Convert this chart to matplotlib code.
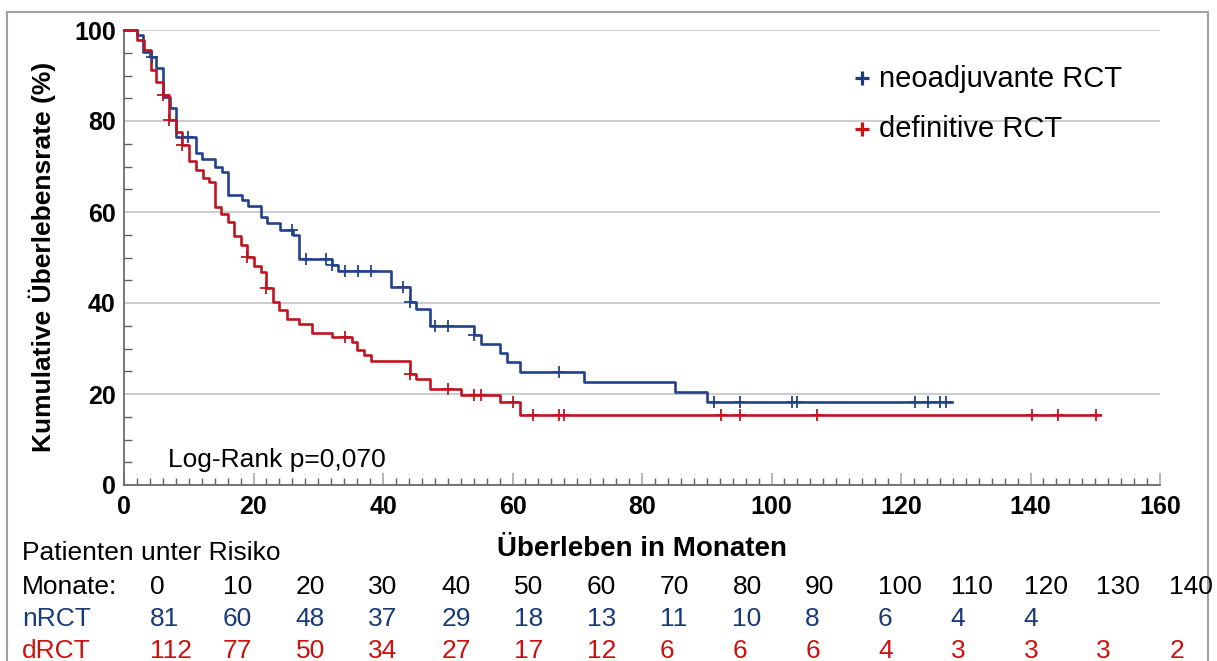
import numpy as np
import matplotlib.pyplot as plt
from matplotlib.patches import Rectangle
from matplotlib.ticker import MultipleLocator

plt.rcParams['font.family'] = ['Liberation Sans', 'DejaVu Sans']

# Kaplan-Meier steps (months, survival %)
nrct_t = [0, 2.0, 3.0, 4.0, 5.0, 6.1, 7.1, 8.0, 11.1, 12.0, 14.1, 15.1, 16.1, 18.2, 19.2,
          21.1, 22.1, 24.1, 26.1, 27.1, 32.1, 33.0, 41.2, 44.1, 45.1, 47.2, 54.1, 55.1,
          58.1, 59.1, 61.1, 71.0, 85.1, 90.1]
nrct_s = [100, 98.8, 95.2, 94.1, 91.6, 85.3, 82.8, 76.5, 72.9, 71.6, 70.0, 68.9, 63.7, 62.6, 61.3,
          58.8, 57.5, 56.0, 54.9, 49.6, 48.4, 47.0, 43.6, 40.3, 38.7, 35.0, 33.0, 31.0,
          29.0, 27.0, 24.9, 22.6, 20.4, 18.2]
nrct_end = 127.8
nrct_cens = [4.3, 9.9, 26.0, 28.1, 31.2, 32.1, 34.1, 36.2, 38.1, 43.1, 44.1, 48.0, 50.1, 54.1,
             67.2, 91.1, 95.1, 103.1, 104.0, 122.2, 124.1, 126.1, 127.0]

drct_t = [0, 2.0, 3.1, 4.1, 5.0, 6.0, 7.0, 8.0, 9.0, 10.1, 11.1, 12.2, 13.2, 14.0, 15.0, 16.0,
          17.0, 18.0, 19.0, 20.0, 21.1, 22.0, 23.0, 24.0, 25.1, 27.0, 29.0, 32.1, 35.2, 36.0,
          37.1, 38.1, 44.1, 45.1, 47.2, 52.0, 58.1, 61.1]
drct_s = [100, 97.8, 95.6, 91.2, 88.6, 85.7, 80.2, 77.6, 74.7, 71.1, 69.2, 67.4, 66.7, 61.2, 59.5, 57.8,
          54.7, 52.7, 50.2, 48.1, 46.9, 43.2, 40.3, 38.5, 36.4, 35.4, 33.5, 32.6, 31.5, 29.7,
          28.6, 27.3, 24.4, 23.3, 21.0, 19.8, 18.3, 15.3]
drct_end = 150.7
drct_cens = [6.0, 7.0, 9.0, 19.0, 22.0, 34.1, 44.1, 50.1, 54.1, 55.1, 60.1, 63.1, 67.2, 68.0,
             92.2, 95.1, 107.1, 140.2, 144.2, 150.1]

# patients at risk
risk_months = [0, 10, 20, 30, 40, 50, 60, 70, 80, 90, 100, 110, 120, 130, 140]
nrct_risk = [81, 60, 48, 37, 29, 18, 13, 11, 10, 8, 6, 4, 4]
drct_risk = [112, 77, 50, 34, 27, 17, 12, 6, 6, 6, 4, 3, 3, 3, 2]

blue = '#22428e'
red = '#c01420'
blue_txt = '#1b3a78'
red_txt = '#cc1111'


def surv_at(ts, ss, c):
    idx = np.searchsorted(ts, c, side='right') - 1
    return np.asarray(ss)[idx]


W, H = 1217, 661
fig = plt.figure(figsize=(W / 100, H / 100), dpi=100)
ax = fig.add_axes([124 / W, 1 - 485 / H, (1160 - 124) / W, (485 - 30) / H])

for ts, ss, end, cens, col in [(nrct_t, nrct_s, nrct_end, nrct_cens, blue),
                               (drct_t, drct_s, drct_end, drct_cens, red)]:
    ax.step(ts + [end], ss + [ss[-1]], where='post', color=col, lw=1.9, clip_on=False, zorder=3)
    ax.plot(cens, surv_at(ts, ss, cens), ls='none', marker='+', ms=9, mew=1.3,
            color=col, clip_on=False, zorder=4)

ax.set_xlim(0, 160)
ax.set_ylim(0, 100)
ax.xaxis.set_major_locator(MultipleLocator(20))
ax.xaxis.set_minor_locator(MultipleLocator(2))
ax.yaxis.set_major_locator(MultipleLocator(20))
ax.yaxis.set_minor_locator(MultipleLocator(5))
ax.tick_params(axis='both', which='both', direction='in')
ax.tick_params(axis='x', which='major', length=9, color='#a8a8a8', width=1.2, pad=7, labelsize=18)
ax.tick_params(axis='x', which='minor', length=5, color='#606060', width=1)
ax.tick_params(axis='y', which='major', length=0, pad=6, labelsize=18)
ax.tick_params(axis='y', which='minor', length=6, color='#606060', width=1)
for lbl in ax.get_xticklabels() + ax.get_yticklabels():
    lbl.set_fontweight('bold')
ax.grid(axis='y', color='#c8c8c8', lw=1.3)
ax.set_axisbelow(True)
for s in ['top', 'right']:
    ax.spines[s].set_visible(False)
for s in ['left', 'bottom']:
    ax.spines[s].set_color('#606060')
    ax.spines[s].set_linewidth(1.2)

# legend
ax.plot([0.7125], [0.894], transform=ax.transAxes, marker='+', ms=9.5, mew=2.3, color=blue_txt, clip_on=False)
ax.plot([0.7125], [0.782], transform=ax.transAxes, marker='+', ms=9.5, mew=2.3, color=red_txt, clip_on=False)
ax.text(0.729, 0.874, 'neoadjuvante RCT', transform=ax.transAxes, fontsize=21, va='baseline')
ax.text(0.729, 0.764, 'definitive RCT', transform=ax.transAxes, fontsize=21, va='baseline')

ax.text(6.8, 3.96, 'Log-Rank p=0,070', fontsize=19, va='baseline')

fig.text(642 / W, 1 - 549 / H, 'Überleben in Monaten', ha='center', va='center',
         fontsize=20, fontweight='bold')
fig.text(42 / W, 1 - 257 / H, 'Kumulative Überlebensrate (%)', ha='center', va='center',
         rotation=90, fontsize=19, fontweight='bold')

# at-risk table
fig.text(22 / W, 1 - 560 / H, 'Patienten unter Risiko', fontsize=19, va='baseline')
rows = [('Monate:', risk_months, 'black', 594),
        ('nRCT', nrct_risk, blue_txt, 626),
        ('dRCT', drct_risk, red_txt, 658)]
for name, vals, col, base in rows:
    fig.text(22 / W, 1 - base / H, name, fontsize=19, va='baseline', color=col)
    for i, v in enumerate(vals):
        fig.text((150 + 72.8 * i) / W, 1 - base / H, str(v), fontsize=19, va='baseline', color=col)

fig.add_artist(Rectangle((7 / W, -0.1), (1208 - 7) / W, 1.1 - 12 / H, transform=fig.transFigure,
                         fill=False, edgecolor='#a0a0a0', lw=1.5))

fig.savefig('out.png', dpi=100)
